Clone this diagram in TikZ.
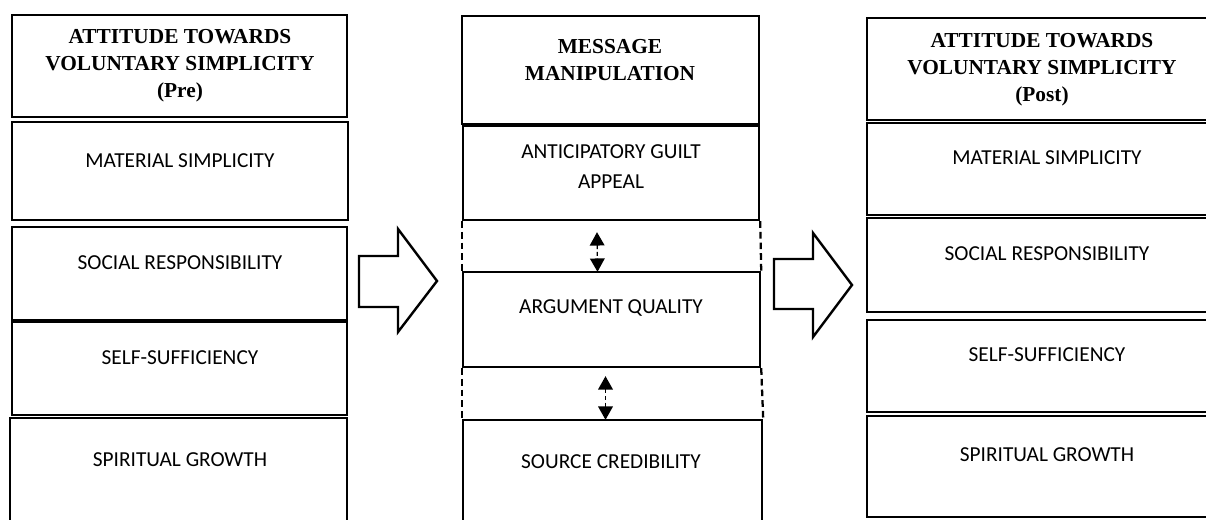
\documentclass[tikz,border=0pt]{standalone}
\usepackage{fontspec}
\setmainfont{Liberation Serif}
\newfontfamily\bodyfont{Carlito}
\usetikzlibrary{arrows.meta,calc,fit}
\tikzset{
  box/.style={draw, line width=1.8pt, inner sep=0pt},
  head/.style={font=\fontsize{16}{20.25}\selectfont\bfseries, align=center, inner sep=0pt},
  lab/.style={font=\bodyfont\fontsize{16}{22.5}\selectfont, align=center, inner sep=0pt},
  gapline/.style={line width=1.7pt, dash pattern=on 5pt off 3pt},
  link/.style={line width=1pt, dash pattern=on 3pt off 2pt,
    {Triangle[width=11pt,length=10pt]}-{Triangle[width=11pt,length=10pt]}},
  blockarrow/.style={draw, line width=1.8pt, fill=white, line join=miter},
}
\begin{document}
\begin{tikzpicture}[x=0.75pt,y=-0.75pt]
\path[use as bounding box, clip] (0,0) rectangle (1206,520);

% left column
\node[box, fit={(12,15) (347,117)}] (hdrL) {};
\node[box, fit={(12,122) (348,220)}] (msL) {};
\node[box, fit={(12,227) (347,320)}] (srL) {};
\node[box, fit={(12,322) (347,415)}] (ssL) {};
\node[box, fit={(10,418) (347,530)}] (sgL) {};
\node[head] (hdrLt) at (180,66) {ATTITUDE TOWARDS\\VOLUNTARY SIMPLICITY\\(Pre)};
\node[lab] (msLt) at (180,161) {MATERIAL SIMPLICITY};
\node[lab] (srLt) at (180,263) {SOCIAL RESPONSIBILITY};
\node[lab] (ssLt) at (180,358) {SELF-SUFFICIENCY};
\node[lab] (sgLt) at (180,460) {SPIRITUAL GROWTH};

% middle column
\node[box, fit={(462,16) (759,124)}] (hdrM) {};
\node[box, fit={(463,126) (759,220)}] (agM) {};
\node[box, fit={(463,272) (760,367)}] (aqM) {};
\node[box, fit={(463,420) (762,530)}] (scM) {};
\node[head] (hdrMt) at (610,60) {MESSAGE\\MANIPULATION};
\node[lab] (agMt) at (611,167) {ANTICIPATORY GUILT\\APPEAL};
\node[lab] (aqMt) at (611,308) {ARGUMENT QUALITY};
\node[lab] (scMt) at (611,462) {SOURCE CREDIBILITY};

\draw[gapline] (agM.south west) -- (aqM.north west);
\draw[gapline] (agM.south east) -- (aqM.north east);
\draw[gapline] (aqM.south west) -- (scM.north west);
\draw[gapline] (aqM.south east) -- (scM.north east);
\draw[link] ($(agM.south)+(-14,11)$) -- ($(aqM.north)+(-14,1)$);
\draw[link] ($(aqM.south)+(-6,8)$) -- ($(scM.north)+(-7,1)$);

% right column
\node[box, fit={(867,18) (1215,120)}] (hdrR) {};
\node[box, fit={(867,123) (1215,215)}] (msR) {};
\node[box, fit={(867,218) (1215,312)}] (srR) {};
\node[box, fit={(867,320) (1215,412)}] (ssR) {};
\node[box, fit={(867,416) (1215,517)}] (sgR) {};
\node[head] (hdrRt) at (1042,70) {ATTITUDE TOWARDS\\VOLUNTARY SIMPLICITY\\(Post)};
\node[lab] (msRt) at (1047,158) {MATERIAL SIMPLICITY};
\node[lab] (srRt) at (1047,254) {SOCIAL RESPONSIBILITY};
\node[lab] (ssRt) at (1047,355) {SELF-SUFFICIENCY};
\node[lab] (sgRt) at (1047,455) {SPIRITUAL GROWTH};

% block arrows
\draw[blockarrow] (359,256) -- (398,256) -- (398,229) -- (437,281) -- (398,332) -- (398,307) -- (359,307) -- cycle;
\draw[blockarrow] (774,259) -- (813,259) -- (813,233) -- (852,285) -- (813,337) -- (813,309) -- (774,309) -- cycle;
\end{tikzpicture}
\end{document}
